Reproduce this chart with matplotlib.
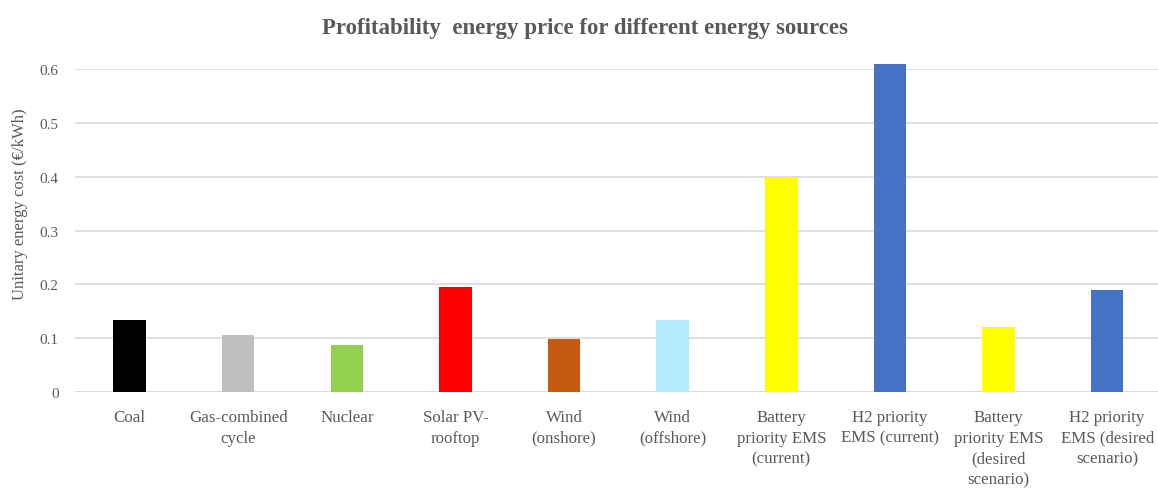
import matplotlib.pyplot as plt

# Data
categories = [
    "Coal",
    "Gas-combined\ncycle",
    "Nuclear",
    "Solar PV-\nrooftop",
    "Wind\n(onshore)",
    "Wind\n(offshore)",
    "Battery\npriority EMS\n(current)",
    "H2 priority\nEMS (current)",
    "Battery\npriority EMS\n(desired\nscenario)",
    "H2 priority\nEMS (desired\nscenario)",
]
costs = [0.133, 0.106, 0.088, 0.196, 0.098, 0.133, 0.40, 0.61, 0.120, 0.190]
bar_colors = ["#000000", "#BFBFBF", "#92D050", "#FF0000", "#C55A11",
              "#B4EBFC", "#FFFF00", "#4472C4", "#FFFF00", "#4472C4"]
y_ticks = [0, 0.1, 0.2, 0.3, 0.4, 0.5, 0.6]
y_tick_labels = ["0", "0.1", "0.2", "0.3", "0.4", "0.5", "0.6"]

text_color = "#595959"
plt.rcParams["font.family"] = ["Liberation Serif", "DejaVu Serif"]

fig = plt.figure(figsize=(11.58, 4.89), dpi=100)
ax = fig.add_axes([0.065, 0.1963, 0.938, 0.6605])

x = list(range(len(categories)))
ax.bar(x, costs, width=0.30, color=bar_colors, zorder=3, clip_on=False)

ax.set_xlim(-0.5, len(categories) - 0.5)
ax.set_ylim(0, 0.6)
ax.set_yticks(y_ticks)
ax.set_yticklabels(y_tick_labels)
ax.set_xticks(x)
ax.set_xticklabels(categories, linespacing=1.42, va="top")

ax.grid(axis="y", color="#D9D9D9", linewidth=1.2, zorder=0)
for side in ["top", "right", "left", "bottom"]:
    ax.spines[side].set_visible(False)
ax.axhline(0, color="#D9D9D9", linewidth=1.2, zorder=1)

ax.tick_params(axis="both", length=0, colors=text_color)
ax.tick_params(axis="y", pad=12, labelsize=11)
ax.tick_params(axis="x", pad=12, labelsize=12.2)

# y label placed by hand (it sits a bit above the plot centre)
fig.text(0.017, 0.583, "Unitary energy cost (€/kWh)", rotation=90,
         ha="center", va="center", fontsize=12, color=text_color)
fig.text(0.505, 0.942, "Profitability  energy price for different energy sources",
         ha="center", va="center", fontsize=16.5, fontweight="bold", color=text_color)

plt.savefig("out.png", dpi=100)
